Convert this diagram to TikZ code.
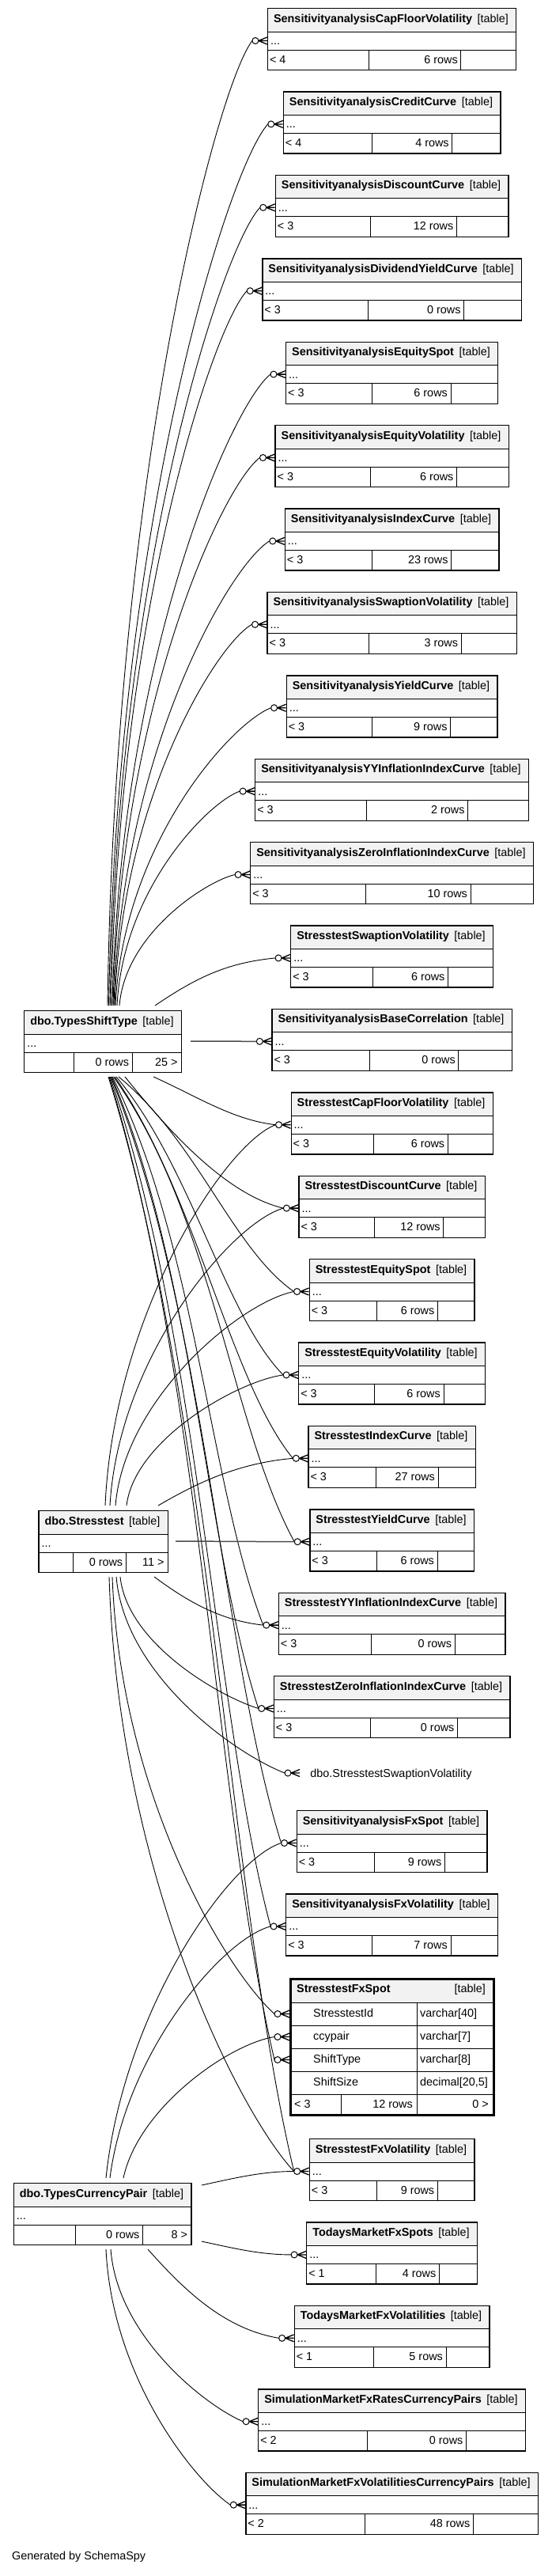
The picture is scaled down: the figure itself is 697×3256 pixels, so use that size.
\documentclass[tikz,border=0pt]{standalone}
\usepackage{fontspec}
\setmainfont{Liberation Sans}
\usetikzlibrary{calc}
\newlength\tblw
\tikzset{
  every node/.style={font=\fontsize{14.4}{17}\selectfont, inner sep=0pt},
  tframe/.style={draw=black, line width=1.3pt},
  tline/.style={draw=black, line width=1pt},
  fkline/.style={draw=black, line width=0.9pt},
  straightfk/.style={draw=black!70, line width=1.5pt},
  crowline/.style={draw=black, line width=1.3pt},
  ring/.style={circle, draw=black, fill=white, line width=1pt, minimum size=8pt, inner sep=0pt},
}
% #1 name, #2 centre x, #3 top, #4 title, #5 lt, #6 rows, #7 gt, #8 split a, #9 split b
\newcommand\tbl[9]{%
  \pgfinterruptpicture\settowidth\tblw{\normalfont\fontsize{14.4}{17}\selectfont\textbf{#4}\hspace{7pt}[table]}\global\tblw=\tblw\endpgfinterruptpicture
  \pgfmathsetmacro\tbW{\tblw/1pt+17}%
  \pgfmathsetmacro\tbL{#2-\tbW/2}%
  \pgfmathsetmacro\tbR{#2+\tbW/2}%
  \pgfmathsetmacro\tbA{\tbL+#8*\tbW}%
  \pgfmathsetmacro\tbB{\tbL+#9*\tbW}%
  \fill[black!5] (\tbL,#3) rectangle (\tbR,#3+30);
  \draw[tline] (\tbL,#3+30) -- (\tbR,#3+30) (\tbL,#3+53) -- (\tbR,#3+53)
     (\tbA,#3+53) -- (\tbA,#3+78) (\tbB,#3+53) -- (\tbB,#3+78);
  \node[tframe, minimum width=\tbW pt, minimum height=78pt, anchor=north west] (#1) at (\tbL,#3) {};
  \node[anchor=base west] (#1-t) at (\tbL+8,#3+18) {\textbf{#4}};
  \node[anchor=base east] (#1-k) at (\tbR-9,#3+18) {[table]};
  \node[anchor=base west] (#1-d) at (\tbL+4,#3+46.5) {...};
  \node[anchor=base west] (#1-l) at (\tbL+3,#3+70) {#5};
  \node[anchor=base east] (#1-r) at (\tbB-4,#3+70) {#6};
  \node[anchor=base east] (#1-g) at (\tbR-4,#3+70) {#7};
  \coordinate (#1-cf) at (\tbL,#3+41.5);
  \coordinate (#1-in) at (\tbL-19,#3+41.5);
}
\newcommand\crowat[1]{%
  \draw[crowline] ($(#1-cf)+(-11,0)$) -- ($(#1-cf)+(0,-4.5)$)
     ($(#1-cf)+(-11,0)$) -- (#1-cf)
     ($(#1-cf)+(-11,0)$) -- ($(#1-cf)+(0,4.5)$);
  \node[ring] (#1-ring) at ($(#1-cf)+(-15,0)$) {};
}
\newcommand\rtbl[5]{\tbl{#1}{495}{#2}{#3}{#4}{#5}{}{0.41}{0.78}\crowat{#1}}
\newcommand\fk[6]{%
  \draw[fkline] let \p1=(#1), \p2=(#2) in (#1) .. controls ($(\p1)+({#3*(\x2-\x1)},{#4*(\y2-\y1)})$) and ($(\p2)-({#5*(\x2-\x1)},{#6*(\y2-\y1)})$) .. (#2);
}
\begin{document}
\begin{tikzpicture}[x=1pt,y=-1pt]
\fill[white] (0,0) rectangle (697,3256);
\useasboundingbox (0,0) rectangle (697,3256);

% ---- source tables
\tbl{tst}{129.5}{1277}{dbo.TypesShiftType}{}{0 rows}{25 >}{0.32}{0.69}
\tbl{st}{130}{1909}{dbo.Stresstest}{}{0 rows}{11 >}{0.27}{0.68}
\tbl{tcp}{129}{2759}{dbo.TypesCurrencyPair}{}{0 rows}{8 >}{0.35}{0.73}

% ---- exit points
\coordinate (a1) at (136,1271);  \coordinate (a2) at (137.5,1271);
\coordinate (a3) at (139,1271);  \coordinate (a4) at (140.5,1271);
\coordinate (a5) at (142,1271);  \coordinate (a6) at (143,1271);
\coordinate (a7) at (144,1271);  \coordinate (a8) at (145,1271);
\coordinate (a9) at (146,1271);  \coordinate (a10) at (148,1271);
\coordinate (a11) at (151,1271); \coordinate (a12) at (196,1271);
\coordinate (a13) at (241,1316);
\coordinate (a14) at (194,1361); \coordinate (a15) at (158,1361);
\coordinate (a16) at (150,1361); \coordinate (a17) at (147,1361);
\coordinate (a18) at (145,1361); \coordinate (a19) at (143.5,1361);
\coordinate (a20) at (142,1361); \coordinate (a21) at (141,1361);
\coordinate (a22) at (140,1361); \coordinate (a23) at (139,1361);
\coordinate (a24) at (138,1361); \coordinate (a25) at (137,1361);
\coordinate (b14) at (133,1903); \coordinate (b15) at (139,1903);
\coordinate (b16) at (146,1903); \coordinate (b17) at (160,1903);
\coordinate (b18) at (200,1903); \coordinate (b19) at (222,1948);
\coordinate (b20) at (195,1993); \coordinate (b21) at (152,1993);
\coordinate (bsw) at (147,1993); \coordinate (b24) at (142,1993);
\coordinate (b25) at (138,1993);
\coordinate (c22) at (134,2753); \coordinate (c23) at (139,2753);
\coordinate (c24) at (156,2753); \coordinate (c25) at (255,2762);
\coordinate (c26) at (255,2833); \coordinate (c27) at (187,2843);
\coordinate (c28) at (140,2843); \coordinate (c29) at (134,2843);

% ---- target tables
\rtbl{t1}{10}{SensitivityanalysisCapFloorVolatility}{< 4}{6 rows}
\rtbl{t2}{115.4}{SensitivityanalysisCreditCurve}{< 4}{4 rows}
\rtbl{t3}{220.8}{SensitivityanalysisDiscountCurve}{< 3}{12 rows}
\rtbl{t4}{326.2}{SensitivityanalysisDividendYieldCurve}{< 3}{0 rows}
\rtbl{t5}{431.6}{SensitivityanalysisEquitySpot}{< 3}{6 rows}
\rtbl{t6}{537}{SensitivityanalysisEquityVolatility}{< 3}{6 rows}
\rtbl{t7}{642.4}{SensitivityanalysisIndexCurve}{< 3}{23 rows}
\rtbl{t8}{747.8}{SensitivityanalysisSwaptionVolatility}{< 3}{3 rows}
\rtbl{t9}{853.2}{SensitivityanalysisYieldCurve}{< 3}{9 rows}
\rtbl{t10}{958.6}{SensitivityanalysisYYInflationIndexCurve}{< 3}{2 rows}
\rtbl{t11}{1064}{SensitivityanalysisZeroInflationIndexCurve}{< 3}{10 rows}
\rtbl{t12}{1169.4}{StresstestSwaptionVolatility}{< 3}{6 rows}
\rtbl{t13}{1274.8}{SensitivityanalysisBaseCorrelation}{< 3}{0 rows}
\rtbl{t14}{1380.2}{StresstestCapFloorVolatility}{< 3}{6 rows}
\rtbl{t15}{1485.6}{StresstestDiscountCurve}{< 3}{12 rows}
\rtbl{t16}{1591}{StresstestEquitySpot}{< 3}{6 rows}
\rtbl{t17}{1696.4}{StresstestEquityVolatility}{< 3}{6 rows}
\rtbl{t18}{1801.8}{StresstestIndexCurve}{< 3}{27 rows}
\rtbl{t19}{1907.2}{StresstestYieldCurve}{< 3}{6 rows}
\rtbl{t20}{2012.6}{StresstestYYInflationIndexCurve}{< 3}{0 rows}
\rtbl{t21}{2118}{StresstestZeroInflationIndexCurve}{< 3}{0 rows}
\rtbl{t22}{2288}{SensitivityanalysisFxSpot}{< 3}{9 rows}
\rtbl{t23}{2393.4}{SensitivityanalysisFxVolatility}{< 3}{7 rows}
\rtbl{t25}{2703}{StresstestFxVolatility}{< 3}{9 rows}
\rtbl{t26}{2808.4}{TodaysMarketFxSpots}{< 1}{4 rows}
\rtbl{t27}{2913.8}{TodaysMarketFxVolatilities}{< 1}{5 rows}
\rtbl{t28}{3019.2}{SimulationMarketFxRatesCurrencyPairs}{< 2}{0 rows}
\rtbl{t29}{3124.6}{SimulationMarketFxVolatilitiesCurrencyPairs}{< 2}{48 rows}

% ---- other-schema reference
\node[anchor=base] (sw) at (494.5,2246) {dbo.StresstestSwaptionVolatility};
\coordinate (sw-cf) at (379,2241);
\coordinate (sw-in) at (360,2241);
\crowat{sw}

% ---- StresstestFxSpot (detailed)
\fill[black!5] (366,2500) rectangle (623,2531);
\draw[tline] (366,2531) -- (623,2531) (366,2560) -- (623,2560) (366,2589) -- (623,2589)
   (366,2618) -- (623,2618) (366,2647) -- (623,2647)
   (527,2531) -- (527,2672) (431,2647) -- (431,2672);
\node[draw=black, line width=2.6pt, minimum width=257pt, minimum height=172pt, anchor=north west] (fxs) at (366,2500) {};
\node[anchor=base west] (fxs-t) at (375,2518) {\textbf{StresstestFxSpot}};
\node[anchor=base east] (fxs-k) at (614,2518) {[table]};
\node[anchor=base west] (fxs-c1) at (396,2549) {StresstestId};
\node[anchor=base west] (fxs-y1) at (531,2549) {varchar[40]};
\node[anchor=base west] (fxs-c2) at (396,2578) {ccypair};
\node[anchor=base west] (fxs-y2) at (531,2578) {varchar[7]};
\node[anchor=base west] (fxs-c3) at (396,2607) {ShiftType};
\node[anchor=base west] (fxs-y3) at (531,2607) {varchar[8]};
\node[anchor=base west] (fxs-c4) at (396,2636) {ShiftSize};
\node[anchor=base west] (fxs-y4) at (531,2636) {decimal[20,5]};
\node[anchor=base west] (fxs-l) at (372,2664) {< 3};
\node[anchor=base east] (fxs-r) at (522,2664) {12 rows};
\node[anchor=base east] (fxs-g) at (618,2664) {0 >};
\coordinate (fa-cf) at (366,2545.5); \coordinate (fa-in) at (347,2545.5);
\coordinate (fb-cf) at (366,2574.5); \coordinate (fb-in) at (347,2574.5);
\coordinate (fc-cf) at (366,2603.5); \coordinate (fc-in) at (347,2603.5);

% ---- connectors from dbo.TypesShiftType
\fk{a1}{t1-in}{0.05}{0.55}{0.25}{0.05}
\fk{a2}{t2-in}{0.05}{0.55}{0.25}{0.05}
\fk{a3}{t3-in}{0.05}{0.55}{0.25}{0.05}
\fk{a4}{t4-in}{0.05}{0.55}{0.25}{0.05}
\fk{a5}{t5-in}{0.05}{0.55}{0.25}{0.05}
\fk{a6}{t6-in}{0.05}{0.55}{0.25}{0.05}
\fk{a7}{t7-in}{0.05}{0.55}{0.25}{0.05}
\fk{a8}{t8-in}{0.05}{0.55}{0.25}{0.05}
\fk{a9}{t9-in}{0.05}{0.55}{0.25}{0.05}
\fk{a10}{t10-in}{0.05}{0.55}{0.25}{0.05}
\fk{a11}{t11-in}{0.05}{0.55}{0.25}{0.05}
\fk{a12}{t12-in}{0.35}{0.6}{0.4}{0.1}
\draw[straightfk] (a13) -- (t13-in);
\fk{a14}{t14-in}{0.35}{0.4}{0.35}{0.1}
\fk{a15}{t15-in}{0.3}{0.45}{0.35}{0.1}
\fk{a16}{t16-in}{0.45}{0.3}{0.35}{0.2}
\fk{a17}{t17-in}{0.45}{0.3}{0.35}{0.2}
\fk{a18}{t18-in}{0.45}{0.3}{0.35}{0.2}
\fk{a19}{t19-in}{0.55}{0.3}{0.35}{0.25}
\fk{a20}{t20-in}{0.55}{0.3}{0.35}{0.25}
\fk{a21}{t21-in}{0.55}{0.3}{0.35}{0.25}
\fk{a22}{t22-in}{0.55}{0.3}{0.35}{0.25}
\fk{a23}{t23-in}{0.55}{0.3}{0.35}{0.25}
\fk{a24}{fc-in}{0.55}{0.3}{0.35}{0.25}
\fk{a25}{t25-in}{0.55}{0.3}{0.35}{0.25}

% ---- connectors from dbo.Stresstest
\fk{b14}{t14-in}{0.05}{0.5}{0.3}{0.05}
\fk{b15}{t15-in}{0.05}{0.5}{0.3}{0.05}
\fk{b16}{t16-in}{0.05}{0.5}{0.3}{0.05}
\fk{b17}{t17-in}{0.05}{0.5}{0.3}{0.05}
\fk{b18}{t18-in}{0.3}{0.5}{0.4}{0.1}
\draw[straightfk] (b19) -- (t19-in);
\fk{b20}{t20-in}{0.3}{0.5}{0.4}{0.1}
\fk{b21}{t21-in}{0.05}{0.5}{0.3}{0.1}
\fk{bsw}{sw-in}{0.05}{0.5}{0.3}{0.1}
\fk{b24}{fa-in}{0.05}{0.5}{0.3}{0.1}
\fk{b25}{t25-in}{0.05}{0.5}{0.3}{0.1}

% ---- connectors from dbo.TypesCurrencyPair
\fk{c22}{t22-in}{0.1}{0.5}{0.3}{0.05}
\fk{c23}{t23-in}{0.1}{0.5}{0.3}{0.05}
\fk{c24}{fb-in}{0.1}{0.5}{0.3}{0.05}
\fk{c25}{t25-in}{0.35}{0.5}{0.35}{0.0}
\fk{c26}{t26-in}{0.35}{0.5}{0.35}{0.0}
\fk{c27}{t27-in}{0.3}{0.5}{0.4}{0.1}
\fk{c28}{t28-in}{0.05}{0.5}{0.3}{0.1}
\fk{c29}{t29-in}{0.05}{0.5}{0.3}{0.1}

% ---- crow's feet on StresstestFxSpot (drawn over the lines)
\crowat{fa}
\crowat{fb}
\crowat{fc}

\node[anchor=base west] (gen) at (15,3235) {Generated by SchemaSpy};
\end{tikzpicture}
\end{document}
